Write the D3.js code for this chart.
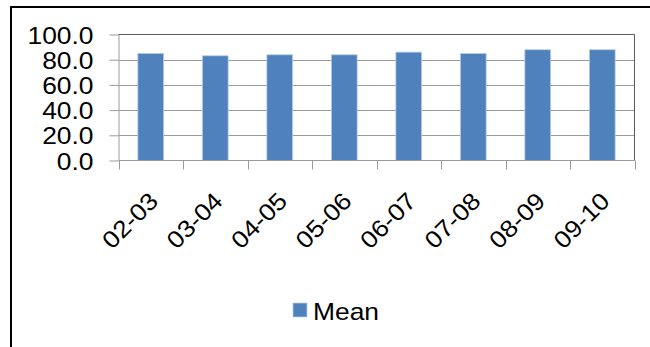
<!DOCTYPE html>
<html>
<head>
<meta charset="utf-8">
<script src="https://cdn.jsdelivr.net/npm/d3@7"></script>
<style>
  html, body { margin: 0; padding: 0; background: #fff; }
  svg { display: block; font-family: "Liberation Sans", Arial, sans-serif; }
</style>
</head>
<body>
<svg id="chart" width="650" height="347"></svg>
<script>
const categories = ["02-03", "03-04", "04-05", "05-06", "06-07", "07-08", "08-09", "09-10"];
const meanValues = [85.0, 83.1, 83.9, 83.9, 86.0, 84.9, 87.9, 87.9];
const yTicks = [0, 20, 40, 60, 80, 100];
const seriesName = "Mean";

const svg = d3.select("#chart");
const W = 650, H = 347;
const plot = { left: 118.5, right: 634.5, top: 34.5, bottom: 160.5 };
const SX = 1.1; // horizontal stretch of the text, as in the reference

// outer frame (extends past right/bottom edges)
svg.append("rect")
  .attr("x", 11).attr("y", 7)
  .attr("width", W + 20).attr("height", H + 20)
  .attr("fill", "#fff").attr("stroke", "#000").attr("stroke-width", 2);

const x = d3.scaleBand().domain(categories)
  .range([plot.left, plot.right]).paddingInner(0.6).paddingOuter(0.3);
const xStep = d3.scaleBand().domain(categories).range([plot.left, plot.right]);
const y = d3.scaleLinear().domain([0, 100]).range([plot.bottom, plot.top]);

// gridlines
svg.append("g").selectAll("line").data(yTicks.filter(d => d > 0 && d < 100)).join("line")
  .attr("x1", plot.left).attr("x2", plot.right)
  .attr("y1", d => Math.round(y(d)) + 0.5).attr("y2", d => Math.round(y(d)) + 0.5)
  .attr("stroke", "#9a9a9a").attr("stroke-width", 1);

// plot border top & right
svg.append("line").attr("x1", plot.left).attr("x2", plot.right)
  .attr("y1", plot.top).attr("y2", plot.top).attr("stroke", "#5a5a5a");
svg.append("line").attr("x1", plot.right).attr("x2", plot.right)
  .attr("y1", plot.top).attr("y2", plot.bottom).attr("stroke", "#5a5a5a");

// bars
svg.append("g").selectAll("rect").data(categories).join("rect")
  .attr("x", d => x(d)).attr("width", x.bandwidth())
  .attr("y", (d, i) => y(meanValues[i]))
  .attr("height", (d, i) => y(0) - y(meanValues[i]))
  .attr("fill", "#4f81bd").attr("stroke", "#b9cde5").attr("stroke-width", 0.8);

// y axis
const yAxis = d3.axisLeft(y).tickValues(yTicks).tickSize(9).tickSizeOuter(0)
  .tickFormat(d3.format(".1f"));
const gy = svg.append("g").attr("transform", `translate(${plot.left},0)`).call(yAxis);
gy.select(".domain").attr("stroke", "#9a9a9a");
gy.selectAll(".tick line").attr("stroke", "#9a9a9a");
gy.selectAll(".tick text").attr("x", 0).attr("dy", "0.36em")
  .attr("transform", `translate(-25,0) scale(${SX},1)`)
  .attr("font-size", 24).attr("fill", "#000").attr("font-family", "Liberation Sans, Arial, sans-serif");

// x axis ticks at band boundaries
const boundaries = categories.map(c => xStep(c)).concat([plot.right]);
svg.append("g").selectAll("line").data(boundaries).join("line")
  .attr("x1", d => Math.round(d) + 0.5).attr("x2", d => Math.round(d) + 0.5)
  .attr("y1", plot.bottom).attr("y2", plot.bottom + 9)
  .attr("stroke", "#9a9a9a");
svg.append("line").attr("x1", plot.left).attr("x2", plot.right)
  .attr("y1", plot.bottom).attr("y2", plot.bottom).attr("stroke", "#9a9a9a");

// x labels
svg.append("g").selectAll("text").data(categories).join("text")
  .attr("transform", d => `translate(${xStep(d) + xStep.bandwidth() / 2 + 9},${plot.bottom + 42}) rotate(-45) scale(${SX},1)`)
  .attr("text-anchor", "end")
  .attr("font-size", 24).attr("fill", "#000")
  .text(d => d);

// legend
const leg = svg.append("g").attr("transform", "translate(293,303)");
leg.append("rect").attr("width", 14).attr("height", 14).attr("fill", "#4f81bd")
  .attr("stroke", "#b9cde5").attr("stroke-width", 0.8);
leg.append("text").attr("transform", `translate(20,16.5) scale(${SX},1)`)
  .attr("font-size", 24).attr("fill", "#000")
  .text(seriesName);
</script>
</body>
</html>
